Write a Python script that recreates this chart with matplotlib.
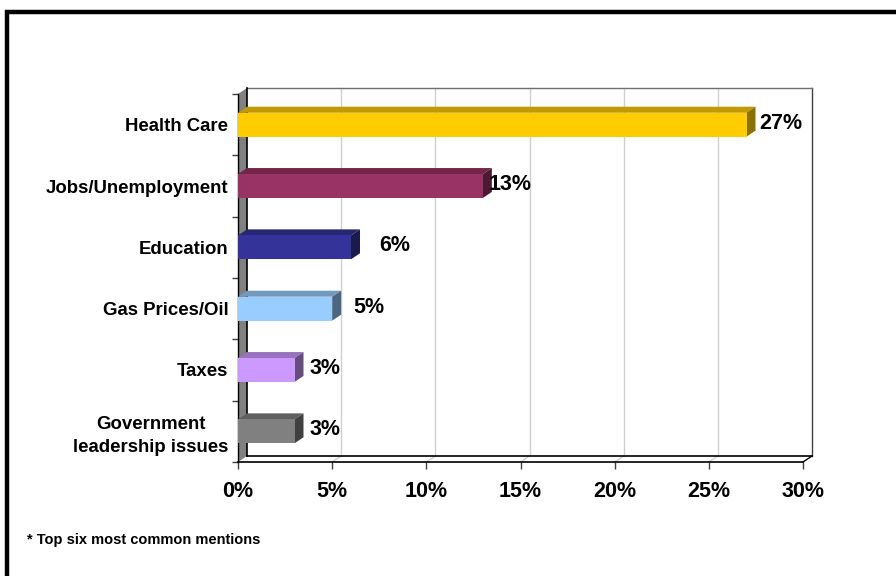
import matplotlib
matplotlib.use("Agg")
import matplotlib.pyplot as plt
from matplotlib.patches import Polygon, Rectangle
import numpy as np

plt.rcParams['font.family'] = ['Liberation Sans', 'DejaVu Sans']
plt.rcParams['font.weight'] = 'bold'

# data
categories = ['Health Care', 'Jobs/Unemployment', 'Education',
              'Gas Prices/Oil', 'Taxes', 'Government\nleadership issues']
shares = [27, 13, 6, 5, 3, 3]
value_labels = ['27%', '13%', '6%', '5%', '3%', '3%']
x_ticks = [0, 5, 10, 15, 20, 25, 30]
x_tick_labels = ['0%', '5%', '10%', '15%', '20%', '25%', '30%']
footnote = '* Top six most common mentions'

# bar face colours: front, top, side
front_cols = ['#FFCC00', '#993366', '#333399', '#99CCFF', '#CC99FF', '#808080']
top_cols = ['#C09A00', '#732648', '#262673', '#7399BF', '#9973BF', '#606060']
side_cols = ['#8C7000', '#4D1A33', '#1A1A4D', '#4D6680', '#664D80', '#404040']
# small nudges (points) for the value labels, as in the original
label_nudge = [3, -2, 14, 9, 4, 4]

fig = plt.figure(figsize=(8.96, 5.76), dpi=100)
ax = fig.add_axes([238 / 896, 114 / 576, 565 / 896, 368 / 576])
n = len(categories)
ypos = np.arange(n)
ax.set_xlim(0, 30)
ax.set_ylim(n - 0.5, -0.5)

# depth of the fake 3d box, 9px right and 6px up, turned into data units
p0 = ax.transData.transform((0, 0))
back = ax.transData.inverted().transform(p0 + np.array([9.0, 6.0]))
dx, dy = back[0], back[1]

y_top, y_bot = -0.5, n - 0.5

# left wall
wall = Polygon([(0, y_top), (0, y_bot), (dx, y_bot + dy), (dx, y_top + dy)],
               closed=True, facecolor='#808080', edgecolor='none', zorder=1, clip_on=False)
ax.add_patch(wall)
ax.plot([dx, dx], [y_top + dy, y_bot + dy], color='black', lw=1.2, zorder=2, clip_on=False)

# back wall grid lines and floor
for xv in x_ticks[1:]:
    col = '#404040' if xv == x_ticks[-1] else '#D0D0D0'
    ax.plot([xv + dx, xv + dx], [y_top + dy, y_bot + dy], color=col, lw=1.0, zorder=1, clip_on=False)
    ax.plot([xv, xv + dx], [y_bot, y_bot + dy], color=('black' if xv == x_ticks[-1] else '#D0D0D0'),
            lw=1.0, zorder=1, clip_on=False)
ax.plot([dx, 30 + dx], [y_top + dy, y_top + dy], color='#707070', lw=1.0, zorder=1, clip_on=False)
ax.plot([dx, 30 + dx], [y_bot + dy, y_bot + dy], color='black', lw=1.2, zorder=2, clip_on=False)

# bars with top and side faces
h = 0.39
ax.barh(ypos, shares, height=h, color=front_cols, zorder=4)
for i, v in enumerate(shares):
    yt = ypos[i] - h / 2
    yb = ypos[i] + h / 2
    ax.add_patch(Polygon([(0, yt), (v, yt), (v + dx, yt + dy), (dx, yt + dy)],
                         closed=True, facecolor=top_cols[i], edgecolor='none', zorder=3, clip_on=False))
    ax.add_patch(Polygon([(v, yt), (v, yb), (v + dx, yb + dy), (v + dx, yt + dy)],
                         closed=True, facecolor=side_cols[i], edgecolor='none', zorder=3, clip_on=False))
    ax.annotate(value_labels[i], xy=(v + dx, ypos[i]), xytext=(label_nudge[i], 1),
                textcoords='offset points', ha='left', va='center',
                fontsize=15.5, fontweight='bold', zorder=5, annotation_clip=False)

# axes styling
for s in ['top', 'right']:
    ax.spines[s].set_visible(False)
ax.spines['left'].set_color('black')
ax.spines['bottom'].set_color('black')
ax.spines['left'].set_linewidth(1.0)
ax.spines['bottom'].set_linewidth(1.2)
ax.spines['left'].set_zorder(2)

ax.set_xticks(x_ticks)
ax.set_xticklabels(x_tick_labels, fontsize=15.5, fontweight='bold')
ax.tick_params(axis='x', direction='out', length=5, width=1, color='#404040', pad=9)

ax.set_yticks(ypos)
ax.set_yticklabels(categories, fontsize=13.4, fontweight='bold', multialignment='center',
                   linespacing=1.45)
ax.set_yticks(np.arange(n + 1) - 0.5, minor=True)
ax.tick_params(axis='y', which='major', length=0, pad=7)
ax.tick_params(axis='y', which='minor', direction='out', length=4, width=1, color='#404040')

fig.text(27 / 896, 1 - 540 / 576, footnote, fontsize=10.5, fontweight='bold', va='center', ha='left')

# black frame, cut off at the right and bottom edge
fig.add_artist(Rectangle((7 / 896, -0.1), 1.2, 1.1 - 12.5 / 576, transform=fig.transFigure,
                         fill=False, edgecolor='black', lw=3.2))

fig.savefig('out.png', dpi=100)
